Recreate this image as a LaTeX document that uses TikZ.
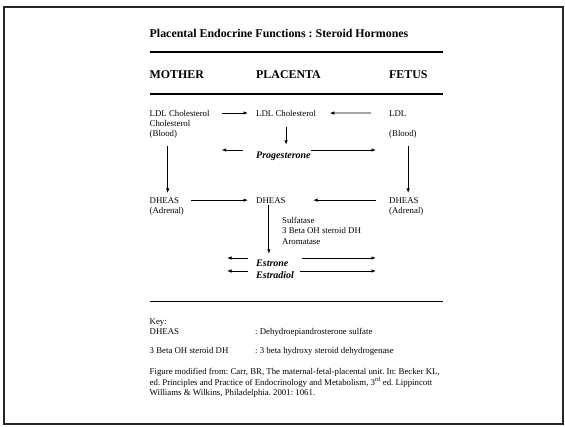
\documentclass[tikz,border=0pt]{standalone}
\usepackage{fontspec}
\setmainfont{Liberation Serif}
\usetikzlibrary{arrows.meta}
\frenchspacing

\newcommand{\txtfont}{\fontsize{8.8}{10.3}\selectfont}
\newcommand{\headfont}{\fontsize{11.9}{14}\selectfont\bfseries}
\newcommand{\hormfont}{\fontsize{10}{12}\selectfont\bfseries\itshape}

\begin{document}
\begin{tikzpicture}[x=1pt,y=-1pt,>={Latex[length=4.5pt,width=3.5pt]},
  lbl/.style={font=\txtfont,anchor=base west,inner sep=0pt},
  head/.style={font=\headfont,anchor=base west,inner sep=0pt},
  horm/.style={font=\hormfont,anchor=base west,inner sep=0pt},
  rule/.style={line width=2pt},
  arr/.style={->,line width=0.8pt}]
  \useasboundingbox (0,0) rectangle (565,426);
  \draw[line width=2pt,black!85] (4,7) rectangle (562.5,424);

  % title and column heads
  \node[head] (title) at (149.5,37) {Placental Endocrine Functions : Steroid Hormones};
  \draw[rule] (149.5,52) -- (442.5,52);
  \node[head] (mother) at (149.5,78) {MOTHER};
  \node[head] (placenta) at (256,78) {PLACENTA};
  \node[head] (fetus) at (389,78) {FETUS};
  \draw[rule] (149.5,94) -- (442.5,94);

  % cholesterol row
  \node[lbl] (mLDL) at (149.5,116) {LDL Cholesterol};
  \node[lbl] (mChol) at (149.5,126.3) {Cholesterol};
  \node[lbl] (mBlood) at (149.5,136.6) {(Blood)};
  \node[lbl] (pLDL) at (256,116) {LDL Cholesterol};
  \node[lbl] (fLDL) at (389,116) {LDL};
  \node[lbl] (fBlood) at (389,136.6) {(Blood)};
  \node[horm] (prog) at (256,158.5) {Progesterone};

  % DHEAS row
  \node[lbl] (mDHEAS) at (149.5,203) {DHEAS};
  \node[lbl] (mAdr) at (149.5,213.3) {(Adrenal)};
  \node[lbl] (pDHEAS) at (256,203) {DHEAS};
  \node[lbl] (fDHEAS) at (389,203) {DHEAS};
  \node[lbl] (fAdr) at (389,213.3) {(Adrenal)};
  \node[lbl,align=left,anchor=north west] (enz) at (282,217)
    {Sulfatase\\3 Beta OH steroid DH\\Aromatase};
  \node[horm] (estrone) at (256,266.5) {Estrone};
  \node[horm] (estradiol) at (256,278.5) {Estradiol};

  % free arrow ends
  \coordinate (pgL) at (221.6,150);
  \coordinate (pgR) at (376,150);
  \coordinate (e1L) at (227,258);
  \coordinate (e2L) at (227,271);
  \coordinate (e1R) at (376,258);
  \coordinate (e2R) at (376,271);

  % arrows
  \draw[arr,shorten <=12pt,shorten >=8pt] (mLDL) -- (pLDL);
  \draw[arr,shorten <=18pt,shorten >=13.5pt] (fLDL) -- (pLDL);
  \draw[arr,shorten <=11pt,shorten >=7pt] (pLDL.south) -- (pLDL.south |- prog.north);
  \draw[arr,shorten <=13.5pt] (prog.west |- pgL) -- (pgL);
  \draw[arr] (prog.east |- pgR) -- (pgR);
  \draw[arr,shorten <=7pt,shorten >=4pt] ([xshift=4.3pt]mBlood.south) -- ([xshift=4.3pt]mBlood.south |- mDHEAS.north);
  \draw[arr,shorten <=7pt,shorten >=4pt] ([xshift=5.3pt]fBlood.south) -- ([xshift=5.3pt]fBlood.south |- fDHEAS.north);
  \draw[arr,shorten <=12pt,shorten >=8pt] (mDHEAS) -- (pDHEAS);
  \draw[arr,shorten <=13pt,shorten >=27.5pt] (fDHEAS) -- (pDHEAS);
  \draw[arr,shorten <=2pt,shorten >=6pt] ([xshift=-2pt]pDHEAS.south) -- ([xshift=-2pt]pDHEAS.south |- estrone.north);
  \draw[arr,shorten <=8pt] (estrone.west |- e1L) -- (e1L);
  \draw[arr,shorten <=8pt] (estradiol.west |- e2L) -- (e2L);
  \draw[arr,shorten <=13pt] (estrone.east |- e1R) -- (e1R);
  \draw[arr,shorten <=6pt] (estradiol.east |- e2R) -- (e2R);

  \draw[line width=1pt] (149.5,301.5) -- (442.5,301.5);

  % key and source
  \node[lbl] (key) at (149.5,324) {Key:};
  \node[lbl] (kDHEAS) at (149.5,334.3) {DHEAS};
  \node[lbl] (kDHEASt) at (255,334.3) {: Dehydroepiandrosterone sulfate};
  \node[lbl] (kBeta) at (149.5,353.5) {3 Beta OH steroid DH};
  \node[lbl] (kBetat) at (255,353.5) {: 3 beta hydroxy steroid dehydrogenase};
  \node[lbl,align=left,anchor=north west] (src) at (149.5,368.5)
    {Figure modified from: Carr, BR, The maternal-fetal-placental unit. In: Becker KL,\\
     ed. Principles and Practice of Endocrinology and Metabolism, 3\textsuperscript{rd} ed. Lippincott\\
     Williams \& Wilkins, Philadelphia. 2001: 1061.};
\end{tikzpicture}
\end{document}
